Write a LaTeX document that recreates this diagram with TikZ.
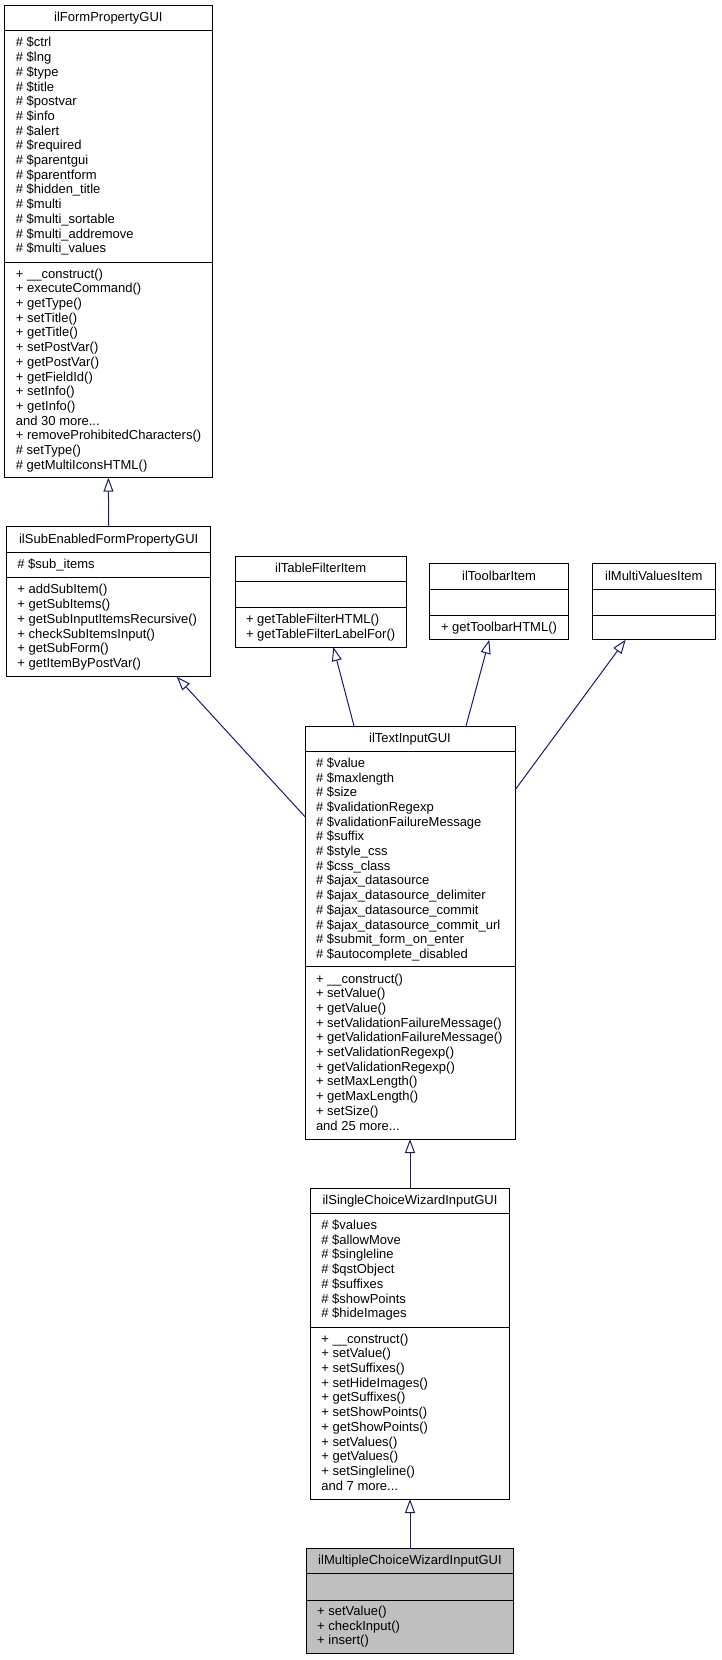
\documentclass[tikz,border=0pt]{standalone}
\usepackage{fontspec}
\setmainfont{Liberation Sans}
\usetikzlibrary{arrows.meta,calc}
\definecolor{edgeblue}{HTML}{191970}
\definecolor{curgray}{HTML}{BFBFBF}
\newcommand{\rl}{\rule[-3.7pt]{0pt}{14.7pt}}
\tikzset{
  cls/.style={draw=black, line width=1pt, rectangle, inner sep=0pt, outer sep=0pt, anchor=north west},
  sepl/.style={draw=black, line width=1pt},
  ttl/.style={inner sep=0pt, anchor=center, font=\fontsize{13}{14.7}\selectfont},
  txt/.style={inner sep=0pt, anchor=west, align=left, font=\fontsize{13}{14.7}\selectfont},
  inh/.style={draw=edgeblue, line width=1pt, -{Triangle[open, length=14pt, width=10pt]}},
}
% name, L, T, R, B, S1, S2, title, fill
\newcommand{\umlclass}[9]{%
  \node[cls, fill=#9, minimum width={(#4-#2)*1pt}, minimum height={(#5-#3)*1pt}] (#1) at (#2,#3) {};
  \draw[sepl] (#2,#6) -- (#4,#6);
  \draw[sepl] (#2,#7) -- (#4,#7);
  \node[ttl] (#1-t) at ({(#2+#4)/2},{(#3+#6)/2}) {\rl #8};
}
\begin{document}
\begin{tikzpicture}[x=1pt, y=-1pt]
\useasboundingbox[fill=white] (0,0) rectangle (721,1660);

% ilFormPropertyGUI
\umlclass{form}{4.7}{5}{212}{477.7}{30}{262.3}{ilFormPropertyGUI}{white}
\node[txt] (form-a) at (15.7,146.15) {\rl\# \$ctrl\\\rl\# \$lng\\\rl\# \$type\\\rl\# \$title\\\rl\# \$postvar\\\rl\# \$info\\\rl\# \$alert\\\rl\# \$required\\\rl\# \$parentgui\\\rl\# \$parentform\\\rl\# \$hidden\_title\\\rl\# \$multi\\\rl\# \$multi\_sortable\\\rl\# \$multi\_addremove\\\rl\# \$multi\_values};
\node[txt] (form-m) at (15.7,370) {\rl+ \_\_construct()\\\rl+ executeCommand()\\\rl+ getType()\\\rl+ setTitle()\\\rl+ getTitle()\\\rl+ setPostVar()\\\rl+ getPostVar()\\\rl+ getFieldId()\\\rl+ setInfo()\\\rl+ getInfo()\\\rl and 30 more...\\\rl+ removeProhibitedCharacters()\\\rl\# setType()\\\rl\# getMultiIconsHTML()};

% ilSubEnabledFormPropertyGUI
\umlclass{sub}{6.7}{526.7}{210.7}{676.7}{552.7}{577.3}{ilSubEnabledFormPropertyGUI}{white}
\node[txt] (sub-a) at (17.2,565) {\rl\# \$sub\_items};
\node[txt] (sub-m) at (17.2,627) {\rl+ addSubItem()\\\rl+ getSubItems()\\\rl+ getSubInputItemsRecursive()\\\rl+ checkSubItemsInput()\\\rl+ getSubForm()\\\rl+ getItemByPostVar()};

% ilTableFilterItem
\umlclass{table}{235.3}{556.7}{406}{647}{581.7}{607.7}{ilTableFilterItem}{white}
\node[txt] (table-m) at (245.8,627.35) {\rl+ getTableFilterHTML()\\\rl+ getTableFilterLabelFor()};

% ilToolbarItem
\umlclass{toolbar}{429.3}{563.7}{568.7}{639.7}{589.3}{615}{ilToolbarItem}{white}
\node[txt] (toolbar-m) at (440.8,627.35) {\rl+ getToolbarHTML()};

% ilMultiValuesItem
\umlclass{multi}{592.3}{563.7}{715.3}{639.7}{589.3}{615}{ilMultiValuesItem}{white}

% ilTextInputGUI
\umlclass{text}{305}{726}{515}{1139}{751.7}{966.7}{ilTextInputGUI}{white}
\node[txt] (text-a) at (315.8,859.2) {\rl\# \$value\\\rl\# \$maxlength\\\rl\# \$size\\\rl\# \$validationRegexp\\\rl\# \$validationFailureMessage\\\rl\# \$suffix\\\rl\# \$style\_css\\\rl\# \$css\_class\\\rl\# \$ajax\_datasource\\\rl\# \$ajax\_datasource\_delimiter\\\rl\# \$ajax\_datasource\_commit\\\rl\# \$ajax\_datasource\_commit\_url\\\rl\# \$submit\_form\_on\_enter\\\rl\# \$autocomplete\_disabled};
\node[txt] (text-m) at (315.8,1052.85) {\rl+ \_\_construct()\\\rl+ setValue()\\\rl+ getValue()\\\rl+ setValidationFailureMessage()\\\rl+ getValidationFailureMessage()\\\rl+ setValidationRegexp()\\\rl+ getValidationRegexp()\\\rl+ setMaxLength()\\\rl+ getMaxLength()\\\rl+ setSize()\\\rl and 25 more...};

% ilSingleChoiceWizardInputGUI
\umlclass{single}{310.7}{1188}{509.3}{1499}{1213}{1327}{ilSingleChoiceWizardInputGUI}{white}
\node[txt] (single-a) at (321.2,1270) {\rl\# \$values\\\rl\# \$allowMove\\\rl\# \$singleline\\\rl\# \$qstObject\\\rl\# \$suffixes\\\rl\# \$showPoints\\\rl\# \$hideImages};
\node[txt] (single-m) at (321.2,1413) {\rl+ \_\_construct()\\\rl+ setValue()\\\rl+ setSuffixes()\\\rl+ setHideImages()\\\rl+ getSuffixes()\\\rl+ setShowPoints()\\\rl+ getShowPoints()\\\rl+ setValues()\\\rl+ getValues()\\\rl+ setSingleline()\\\rl and 7 more...};

% ilMultipleChoiceWizardInputGUI
\umlclass{mcw}{306.5}{1548}{513.5}{1653}{1573}{1600}{ilMultipleChoiceWizardInputGUI}{curgray}
\node[txt] (mcw-m) at (317,1626.5) {\rl+ setValue()\\\rl+ checkInput()\\\rl+ insert()};

% inheritance edges
\draw[inh] (sub.north) -- (form.south);
\draw[inh] (text.west |- 0,816.7) -- (sub.south -| 176.7,0);
\draw[inh] (text.north -| 354,0) -- (table.south -| 333.3,0);
\draw[inh] (text.north -| 466,0) -- (toolbar.south -| 489.3,0);
\draw[inh] (text.east |- 0,790) -- (multi.south -| 625.7,0);
\draw[inh] (single.north) -- (text.south);
\draw[inh] (mcw.north) -- (single.south);
\end{tikzpicture}
\end{document}
